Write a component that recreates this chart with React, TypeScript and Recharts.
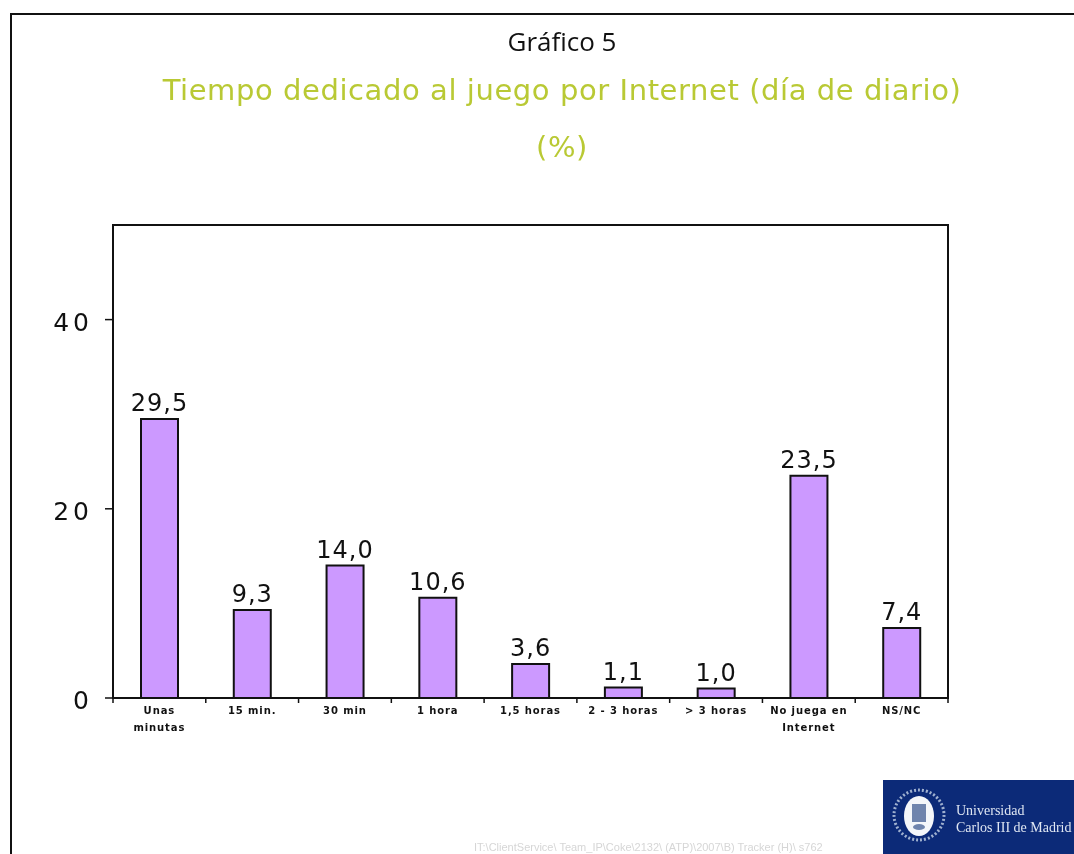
import React from 'react';
import { BarChart, Bar, XAxis, YAxis, LabelList, usePlotArea } from 'recharts';

const categories = [['Unas', 'minutas'], ['15 min.'], ['30 min'], ['1 hora'], ['1,5 horas'], ['2 - 3 horas'], ['> 3 horas'], ['No juega en', 'Internet'], ['NS/NC']];
const values = [29.5, 9.3, 14.0, 10.6, 3.6, 1.1, 1.0, 23.5, 7.4];
const yTicks = [0, 20, 40];
const chartTitle = 'Gráfico 5';
const subtitle = ['Tiempo dedicado al juego por Internet (día de diario)', '(%)'];
const footer = 'IT:\\ClientService\\ Team_IP\\Coke\\2132\\ (ATP)\\2007\\B) Tracker (H)\\ s762';

const data = categories.map((c, i) => ({ name: c.join('|'), value: values[i] }));
const n = categories.length;
const FONT = '"DejaVu Sans", Verdana, sans-serif';

function PlotFrame() {
  const p = usePlotArea();
  if (!p) return null;
  return <rect x={p.x} y={p.y} width={p.width} height={p.height} fill="none" stroke="#111" strokeWidth={2} />;
}

function XTick(props: any) {
  const { x, payload, index } = props;
  const step = 835 / n;
  const lines = String(payload.value).split('|');
  const axisY = 698;
  return (
    <g>
      <line x1={x - step / 2} x2={x - step / 2} y1={axisY} y2={axisY + 5} stroke="#111" strokeWidth={1.5} />
      {index === n - 1 && <line x1={x + step / 2} x2={x + step / 2} y1={axisY} y2={axisY + 5} stroke="#111" strokeWidth={1.5} />}
      {lines.map((l: string, i: number) => (
        <text key={i} x={x} y={axisY + 16 + i * 17} textAnchor="middle" fontFamily={FONT} fontSize={10} fontWeight={700} fill="#111" letterSpacing={0.9}>{l}</text>
      ))}
    </g>
  );
}

function YTick(props: any) {
  const { x, y, payload } = props;
  return (
    <text x={x} y={y + 11} textAnchor="end" fontFamily={FONT} fontSize={25} fill="#111" letterSpacing={4}>{payload.value}</text>
  );
}

export default function App() {
  return (
    <div style={{ position: 'fixed', left: 0, top: 0, width: 1074, height: 854, overflow: 'hidden', background: '#fff', fontFamily: FONT, filter: 'blur(0.5px)' }}>
      <div style={{ position: 'absolute', left: 10, top: 13, width: 1100, height: 900, borderLeft: '2px solid #111', borderTop: '2px solid #111' }} />
      <div style={{ position: 'absolute', left: 0, width: 1124, top: 24, textAlign: 'center', fontSize: 26, lineHeight: '34px', color: '#111', fontFamily: '"Open Sans", sans-serif' }}>{chartTitle}</div>
      <div style={{ position: 'absolute', left: 0, width: 1124, top: 70, textAlign: 'center', fontSize: 29, lineHeight: '40px', letterSpacing: 0.58, color: '#b9c934', whiteSpace: 'nowrap' }}>{subtitle[0]}</div>
      <div style={{ position: 'absolute', left: 0, width: 1124, top: 127, textAlign: 'center', fontSize: 29, lineHeight: '40px', letterSpacing: 0.58, color: '#b9c934' }}>{subtitle[1]}</div>

      <div style={{ position: 'absolute', left: 0, top: 0 }}>
        <BarChart width={1074} height={854} data={data} margin={{ top: 225, right: 126, bottom: 0, left: 0 }} barSize={37}>
          <XAxis dataKey="name" interval={0} axisLine={{ stroke: '#111', strokeWidth: 2 }} tickLine={false} tick={<XTick />} height={156} />
          <YAxis domain={[0, 50]} ticks={yTicks} width={113} axisLine={false} tickSize={8} tickLine={{ stroke: '#111', strokeWidth: 1.5 }} tick={<YTick />} tickMargin={12} />
          <Bar dataKey="value" fill="#cc99ff" stroke="#111" strokeWidth={2} isAnimationActive={false}>
            <LabelList dataKey="value" position="top" offset={8} formatter={(v: number) => v.toFixed(1).replace('.', ',')} style={{ fontFamily: FONT, fontSize: 24, fill: '#111', letterSpacing: 1 }} />
          </Bar>
          <PlotFrame />
        </BarChart>
      </div>

      <div style={{ position: 'absolute', left: 474, top: 841, fontSize: 11, color: '#d6d6d6', whiteSpace: 'nowrap', fontFamily: '"Liberation Sans", sans-serif' }}>{footer}</div>
      <div style={{ position: 'absolute', left: 883, top: 780, width: 191, height: 74, background: '#0c2a78', color: '#dfe6f2', fontFamily: '"Liberation Serif", serif', fontSize: 14, lineHeight: '17px' }}>
        <svg width={70} height={74} style={{ position: 'absolute', left: 0, top: 0 }}>
          <circle cx={36} cy={35} r={25} fill="none" stroke="#9fb0cf" strokeWidth={3} strokeDasharray="2 2" />
          <ellipse cx={36} cy={36} rx={15} ry={20} fill="#f4f6fa" />
          <rect x={29} y={24} width={14} height={18} fill="#6f84ad" />
          <ellipse cx={36} cy={47} rx={6} ry={3} fill="#6f84ad" />
        </svg>
        <div style={{ position: 'absolute', left: 73, top: 22, whiteSpace: 'nowrap' }}>Universidad<br />Carlos III de Madrid</div>
      </div>
    </div>
  );
}
